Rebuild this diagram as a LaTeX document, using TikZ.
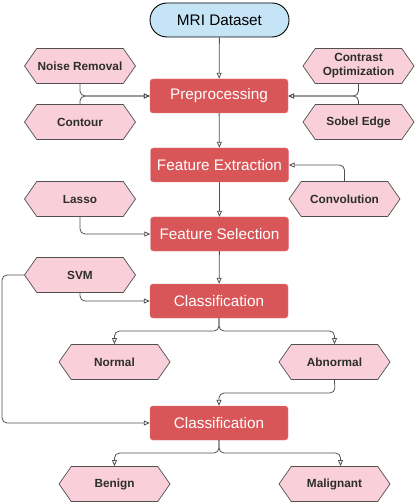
\documentclass[tikz,border=0pt]{standalone}
\usepackage{fontspec}
\setmainfont{Liberation Sans}
\usetikzlibrary{shapes.symbols,shapes.misc,arrows.meta}
\definecolor{boxred}{RGB}{217,86,88}
\definecolor{hexpink}{RGB}{249,208,218}
\definecolor{hexline}{RGB}{80,80,80}
\definecolor{dsblue}{RGB}{197,229,246}
\definecolor{conncol}{RGB}{80,80,80}
\definecolor{hextext}{RGB}{45,45,45}
\tikzset{
  stepbox/.style={rectangle, rounded corners=3pt, fill=boxred, draw=boxred!80!white,
    minimum width=138pt, minimum height=34pt, inner sep=0pt,
    text=white, font=\fontsize{15.3}{17}\selectfont},
  hexbox/.style={signal, signal to=west and east, signal pointer angle=110,
    fill=hexpink, draw=hexline, line width=0.7pt,
    minimum width=111pt, minimum height=35pt, inner sep=0pt,
    text=hextext, font=\fontsize{11.8}{14}\selectfont\bfseries, align=center},
  dsbox/.style={rounded rectangle, fill=dsblue, draw=black, line width=0.9pt,
    minimum width=139pt, minimum height=34pt, inner sep=0pt,
    font=\fontsize{15.3}{17}\selectfont},
  conn/.style={draw=conncol, line width=0.8pt, rounded corners=5pt,
    -{Triangle[open, length=6pt, width=5pt]}},
}
\begin{document}
\begin{tikzpicture}[x=1pt,y=-1pt]
\useasboundingbox (0,0) rectangle (416,502);
\node[dsbox] (mri) at (219.5,20) {MRI Dataset};
\node[stepbox] (pre) at (219,96) {Preprocessing};
\node[stepbox] (fe) at (219.5,165) {Feature Extraction};
\node[stepbox] (fs) at (219.5,234) {Feature Selection};
\node[stepbox] (c1) at (219,301) {Classification};
\node[stepbox] (c2) at (219,423) {Classification};

\node[hexbox] (noise) at (80,66) {Noise Removal};
\node[hexbox] (contour) at (80,122) {Contour};
\node[hexbox] (contrast) at (358.5,66) {Contrast\\Optimization};
\node[hexbox] (sobel) at (358.5,122) {Sobel Edge};
\node[hexbox] (lasso) at (80,199) {Lasso};
\node[hexbox] (conv) at (344.5,199) {Convolution};
\node[hexbox] (svm) at (80,275) {SVM};
\node[hexbox] (normal) at (114.5,362) {Normal};
\node[hexbox] (abnormal) at (334.5,362) {Abnormal};
\node[hexbox] (benign) at (114.5,484) {Benign};
\node[hexbox] (malignant) at (334.5,484) {Malignant};

\coordinate (svmleft) at (2,275);
\coordinate (c1split) at (219,331);
\coordinate (absplit) at (335,393);
\coordinate (c2split) at (219,453);

\draw[conn] (mri) -- (pre);
\draw[conn] (noise.south) |- (pre.west);
\draw[conn] (contour.north) |- (pre.west);
\draw[conn] (contrast.south) |- (pre.east);
\draw[conn] (sobel.north) |- (pre.east);
\draw[conn] (pre) -- (fe);
\draw[conn] (conv.north) |- (fe.east);
\draw[conn] (fe) -- (fs);
\draw[conn] (lasso.south) |- (fs.west);
\draw[conn] (fs) -- (c1);
\draw[conn] (svm.south) |- (c1.west);
\draw[conn] (svm.west) -- (svmleft) |- (c2.west);
\draw[conn] (c1.south) -- (c1split) -| (normal.north);
\draw[conn] (c1.south) -- (c1split) -| (abnormal.north);
\draw[conn] (abnormal.south) -- (absplit) -| (c2.north);
\draw[conn] (c2.south) -- (c2split) -| (benign.north);
\draw[conn] (c2.south) -- (c2split) -| ([xshift=6pt]malignant.north);
\end{tikzpicture}
\end{document}
